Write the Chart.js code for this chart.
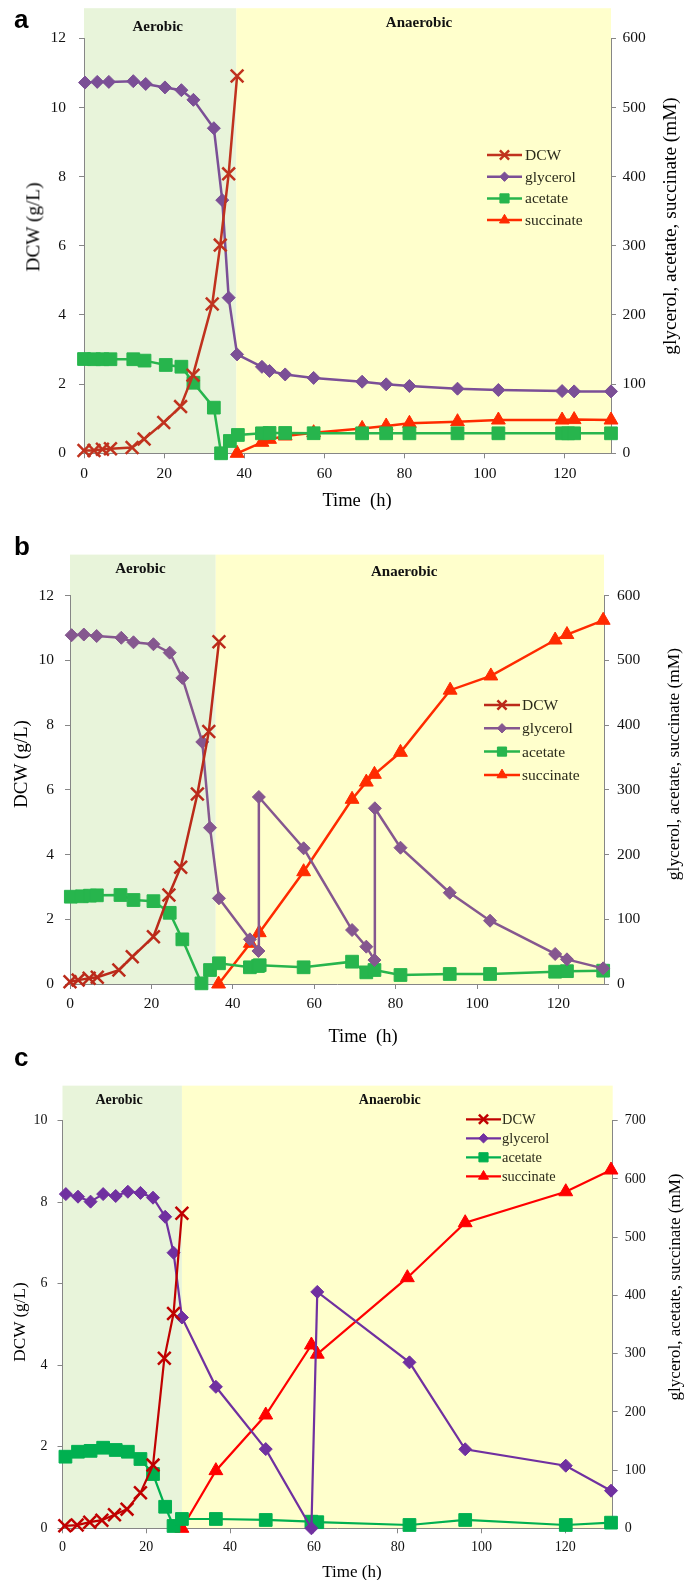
<!DOCTYPE html>
<html><head><meta charset="utf-8">
<script src="https://cdn.jsdelivr.net/npm/chart.js@4.4.0/dist/chart.umd.min.js"></script>
<style>
html,body{margin:0;padding:0;background:#fff;}
#wrap{position:relative;width:684px;height:1580px;overflow:hidden;background:#fff;}
canvas{position:absolute;left:0;}
.t{position:absolute;font-family:"Liberation Serif","Times New Roman",serif;color:#000;white-space:pre;line-height:1;transform:translate(-50%,-50%);}
.r{transform:translate(-50%,-50%) rotate(-90deg);}
.p{position:absolute;font-family:"Liberation Sans",Arial,sans-serif;font-weight:bold;font-size:26px;line-height:1;}
</style></head><body>
<div id="wrap">
<canvas id="ca" width="684" height="520" style="top:0px"></canvas>
<canvas id="cb" width="684" height="525" style="top:520px"></canvas>
<canvas id="cc" width="684" height="535" style="top:1045px"></canvas>
<div class="p" style="left:14px;top:6px">a</div>
<div class="p" style="left:14px;top:533px">b</div>
<div class="p" style="left:14px;top:1044px">c</div>
<div class="t r" style="left:33px;top:227px;font-size:19.3px">DCW (g/L)</div>
<div class="t r" style="left:670px;top:226px;font-size:19.3px">glycerol, acetate, succinate (mM)</div>
<div class="t" style="left:357px;top:500px;font-size:18.5px">Time  (h)</div>
<div class="t r" style="left:20px;top:764px;font-size:19px">DCW (g/L)</div>
<div class="t r" style="left:674px;top:764px;font-size:17.4px">glycerol, acetate, succinate (mM)</div>
<div class="t" style="left:363px;top:1036px;font-size:18.5px">Time  (h)</div>
<div class="t r" style="left:20px;top:1322px;font-size:17.2px">DCW (g/L)</div>
<div class="t r" style="left:674px;top:1287px;font-size:17px">glycerol, acetate, succinate (mM)</div>
<div class="t" style="left:352px;top:1571px;font-size:17px">Time (h)</div>
</div>
<script>
// ---------- labels / ticks ----------
const seriesNames = ['DCW','glycerol','acetate','succinate'];
const phaseNames = ['Aerobic','Anaerobic'];
const xTickVals = [0,20,40,60,80,100,120];
const dcwTicksAB = [0,2,4,6,8,10,12];
const mmTicksAB = [0,100,200,300,400,500,600];
const dcwTicksC = [0,2,4,6,8,10];
const mmTicksC = [0,100,200,300,400,500,600,700];
const phaseEnd = [38.0, 35.8, 28.5];
const timeMax = [131.5, 131.2, 131.3];

// ---------- panel a ----------
const aDcwT = [0,2.5,4.6,6.6,12,15,19.9,24.1,27.2,32,34,36.1,38.2];
const aDcwV = [0.08,0.08,0.12,0.13,0.17,0.41,0.89,1.35,2.26,4.32,6.02,8.08,10.91];
const aGlyT = [0.25,3.3,6.2,12.3,15.4,20.2,24.3,27.3,32.4,34.5,36.1,38.2,44.4,46.3,50.2,57.3,69.4,75.4,81.2,93.2,103.4,119.3,122.3,131.5];
const aGlyV = [536,537,537,538,534,529,525,511,470,366,225,143,125,119,114,109,103.5,99.7,97.3,93.4,91.5,90,89.5,89.5];
const aAceT = [0,2.5,4.6,6.6,12.3,15.1,20.4,24.3,27.3,32.4,34.2,36.4,38.4,44.4,46.3,50.2,57.3,69.4,75.4,81.2,93.2,103.4,119.3,120.8,122.3,131.5];
const aAceV = [136.3,136,136,136,136,134,127.7,125.2,102,66,0,17.8,26.5,28.9,29.4,29.4,29,28.9,28.9,28.9,28.9,28.9,28.9,28.9,28.9,28.9];
const aSucT = [38.2,44.4,46.3,50.2,57.3,69.4,75.4,81.2,93.2,103.4,119.3,122.3,131.5];
const aSucV = [0,15.9,20.2,25,29.8,36,39.5,43.4,45.7,48.1,48.1,48.7,48.1];

// ---------- panel b ----------
const bDcwT = [0,2,4.7,6.7,12,15.3,20.5,24.3,27.2,31.3,34.1,36.6];
const bDcwV = [0.07,0.12,0.18,0.21,0.43,0.84,1.46,2.75,3.61,5.87,7.8,10.58];
const bGlyT = [0.4,3.4,6.55,12.6,15.6,20.5,24.5,27.6,32.5,34.4,36.6,44.2,46.3,46.4,57.4,69.3,72.8,74.8,74.9,81.2,93.3,103.2,119.2,122.1,131];
const bGlyV = [539,540,537.7,535,528,525,512,473,374,241.5,132.4,69,51,289,209.7,83.4,57.7,37,271.5,210.6,141,97.8,46.4,38.1,24.2];
const bAceT = [0.2,2.9,4.9,6.6,12.4,15.6,20.5,24.5,27.6,32.3,34.4,36.6,44.2,46.2,46.6,57.4,69.3,72.8,74.8,81.2,93.3,103.2,119.2,122.1,131];
const bAceV = [134.9,135.5,136.5,137,137.5,129.8,128,110,69,1,21.6,32,25.8,27.8,29,25.8,34.5,18,21.6,13.9,15.5,15.5,19,19.8,20.6];
const bSucT = [36.5,44.3,46.5,57.4,69.3,72.8,74.8,81.2,93.4,103.4,119.2,122.1,131];
const bSucV = [0,62.9,79.3,173.5,285.4,312,324,358,454,476,531.5,540,562];

// ---------- panel c ----------
const cDcwT = [0.55,3.5,6.5,9.4,12.4,15.4,18.6,21.6,24.3,26.5,28.5];
const cDcwV = [0.06,0.08,0.15,0.2,0.33,0.47,0.87,1.55,4.17,5.27,7.73];
const cGlyT = [0.8,3.7,6.7,9.7,12.7,15.6,18.6,21.6,24.5,26.5,28.5,36.6,48.5,59.4,60.8,82.8,96.1,120.1,130.9];
const cGlyV = [574,569.5,561,574,570.7,578,576,567.8,535,473.3,362,243,136,0,406,285,135.7,107.5,64.6];
const cAceT = [0.7,3.7,6.7,9.7,12.7,15.6,18.6,21.6,24.5,26.5,28.5,36.6,48.5,59.4,60.8,82.8,96.1,120.1,130.9];
const cAceV = [123,131.5,133,138.4,134.5,131.5,119,93.2,37,4,16,16,14.3,11.4,10.5,5.7,14.3,5.7,9.7];
const cSucT = [28.5,36.6,48.5,59.4,60.8,82.3,96.1,120.1,130.9];
const cSucV = [0,99,194.6,314.8,299,430.4,524.8,578,615.3];

// ---------- layout / style per panel ----------
const panels = [
 {canvas:'ca', H:520, top:38.3, bottom:453.3, L:84, R:611, xMax:timeMax[0], yMax:12, y1Max:600,
  yT:dcwTicksAB, y1T:mmTicksAB, shadeTop:12.87, end:phaseEnd[0], labX:[18.4,83.6], labY:[19,15],
  series:[[aDcwT,aDcwV],[aGlyT,aGlyV],[aAceT,aAceV],[aSucT,aSucV]],
  colors:['#c0321e','#7b4f96','#27b54d','#ff2b00'], lw:2.5,
  tickFont:15.5, padX:6.5, padL:13, padR:6.5, labFont:15,
  legend:{x:487,len:35,tx:525,y:155,dy:21.7,font:15.5}},
 {canvas:'cb', H:525, top:75.7, bottom:464, L:70, R:604, xMax:timeMax[1], yMax:12, y1Max:600,
  yT:dcwTicksAB, y1T:mmTicksAB, shadeTop:13.27, end:phaseEnd[1], labX:[17.3,82.1], labY:[14.5,18],
  series:[[bDcwT,bDcwV],[bGlyT,bGlyV],[bAceT,bAceV],[bSucT,bSucV]],
  colors:['#bb2a1a','#85578f','#27b54d','#ff2b00'], lw:2.5,
  tickFont:15.5, padX:6, padL:11, padR:8, labFont:15,
  legend:{x:484,len:36,tx:522,y:185,dy:23.3,font:15.5}},
 {canvas:'cc', H:535, top:75.7, bottom:483.3, L:62.5, R:612.7, xMax:timeMax[2], yMax:10, y1Max:700,
  yT:dcwTicksC, y1T:mmTicksC, shadeTop:10.86, end:phaseEnd[2], labX:[13.5,78.1], labY:[14.7,14.7],
  series:[[cDcwT,cDcwV],[cGlyT,cGlyV],[cAceT,cAceV],[cSucT,cSucV]],
  colors:['#c00000','#7030a0','#00b050','#ff0000'], lw:2.2,
  tickFont:14, padX:6, padL:10, padR:7, labFont:14,
  legend:{x:466,len:35,tx:502,y:74.3,dy:19,font:14.4}}
];

const markers = [
  {pointStyle:'crossRot', r:9, bw:2.5},
  {pointStyle:'rectRot', r:6.5, bw:1},
  {pointStyle:'rect', r:9, bw:1},
  {pointStyle:'triangle', r:8, bw:1}
];
const axisColor = '#868686';
const serif = '"Liberation Serif","Times New Roman",serif';

function makePanel(p){
  const datasets = p.series.map((s,i)=>({
    label: seriesNames[i],
    data: s[0].map((t,k)=>({x:t, y:s[1][k]})),
    yAxisID: i===0 ? 'y' : 'y1',
    borderColor: p.colors[i], backgroundColor: p.colors[i],
    pointBackgroundColor: p.colors[i], pointBorderColor: p.colors[i],
    pointStyle: markers[i].pointStyle, pointRadius: markers[i].r,
    pointBorderWidth: markers[i].bw, pointHoverRadius: markers[i].r,
    borderWidth: p.lw, tension: 0, clip: false, fill: false
  }));
  const deco = {
    id: 'deco_'+p.canvas,
    beforeDraw(chart){
      const {ctx, chartArea:a, scales} = chart;
      const x = scales.x, y = scales.y;
      const x0 = x.getPixelForValue(0), x1 = x.getPixelForValue(p.end), x2 = x.getPixelForValue(p.xMax);
      const yt = y.getPixelForValue(p.shadeTop);
      ctx.save();
      ctx.fillStyle = '#e8f4da'; ctx.fillRect(x0, yt, x1-x0, a.bottom-yt);
      ctx.fillStyle = '#ffffcc'; ctx.fillRect(x1, yt, x2-x1, a.bottom-yt);
      ctx.fillStyle = '#111';
      ctx.font = 'bold '+p.labFont+'px '+serif;
      ctx.textAlign = 'center'; ctx.textBaseline = 'middle';
      ctx.fillText(phaseNames[0], x.getPixelForValue(p.labX[0]), yt+p.labY[0]);
      ctx.fillText(phaseNames[1], x.getPixelForValue(p.labX[1]), yt+p.labY[1]);
      ctx.restore();
    },
    afterDraw(chart){
      const ctx = chart.ctx, L = p.legend;
      ctx.save();
      for (let i=0;i<4;i++){
        const yy = L.y + i*L.dy, col = p.colors[i];
        ctx.strokeStyle = col; ctx.lineWidth = p.lw;
        ctx.beginPath(); ctx.moveTo(L.x, yy); ctx.lineTo(L.x+L.len, yy); ctx.stroke();
        if (Chart.helpers && Chart.helpers.drawPoint){
          ctx.fillStyle = col; ctx.strokeStyle = col; ctx.lineWidth = markers[i].bw;
          Chart.helpers.drawPoint(ctx, {pointStyle:markers[i].pointStyle, radius:markers[i].r*0.72, borderWidth:markers[i].bw, rotation:0}, L.x+L.len/2, yy);
        }
        ctx.fillStyle = '#2a2a1a';
        ctx.font = L.font+'px '+serif;
        ctx.textAlign = 'left'; ctx.textBaseline = 'middle';
        ctx.fillText(seriesNames[i], L.tx, yy+1);
      }
      ctx.restore();
    }
  };
  const gridOpt = {display:true, drawOnChartArea:false, drawTicks:true, tickLength:5, color:axisColor};
  const borderOpt = {display:true, color:axisColor, width:1};
  const tickFont = {family:serif, size:p.tickFont};
  new Chart(document.getElementById(p.canvas), {
    type:'line',
    data:{datasets},
    plugins:[deco],
    options:{
      responsive:false, animation:false, devicePixelRatio:1,
      layout:{padding:{top:p.top, left:0, right:0, bottom:0}},
      plugins:{legend:{display:false}, tooltip:{enabled:false}},
      events:[],
      scales:{
        x:{type:'linear', min:0, max:p.xMax, grid:gridOpt, border:borderOpt,
           ticks:{font:tickFont, color:'#111', padding:p.padX, maxRotation:0},
           afterBuildTicks:s=>{s.ticks = xTickVals.map(v=>({value:v}));},
           afterFit:s=>{s.height = p.H - p.bottom;}},
        y:{type:'linear', position:'left', min:0, max:p.yMax, grid:gridOpt, border:borderOpt,
           ticks:{font:tickFont, color:'#111', padding:p.padL},
           afterBuildTicks:s=>{s.ticks = p.yT.map(v=>({value:v}));},
           afterFit:s=>{s.width = p.L;}},
        y1:{type:'linear', position:'right', min:0, max:p.y1Max, grid:gridOpt, border:borderOpt,
           ticks:{font:tickFont, color:'#111', padding:p.padR},
           afterBuildTicks:s=>{s.ticks = p.y1T.map(v=>({value:v}));},
           afterFit:s=>{s.width = 684 - p.R;}}
      }
    }
  });
}
panels.forEach(makePanel);
</script>
</body></html>
